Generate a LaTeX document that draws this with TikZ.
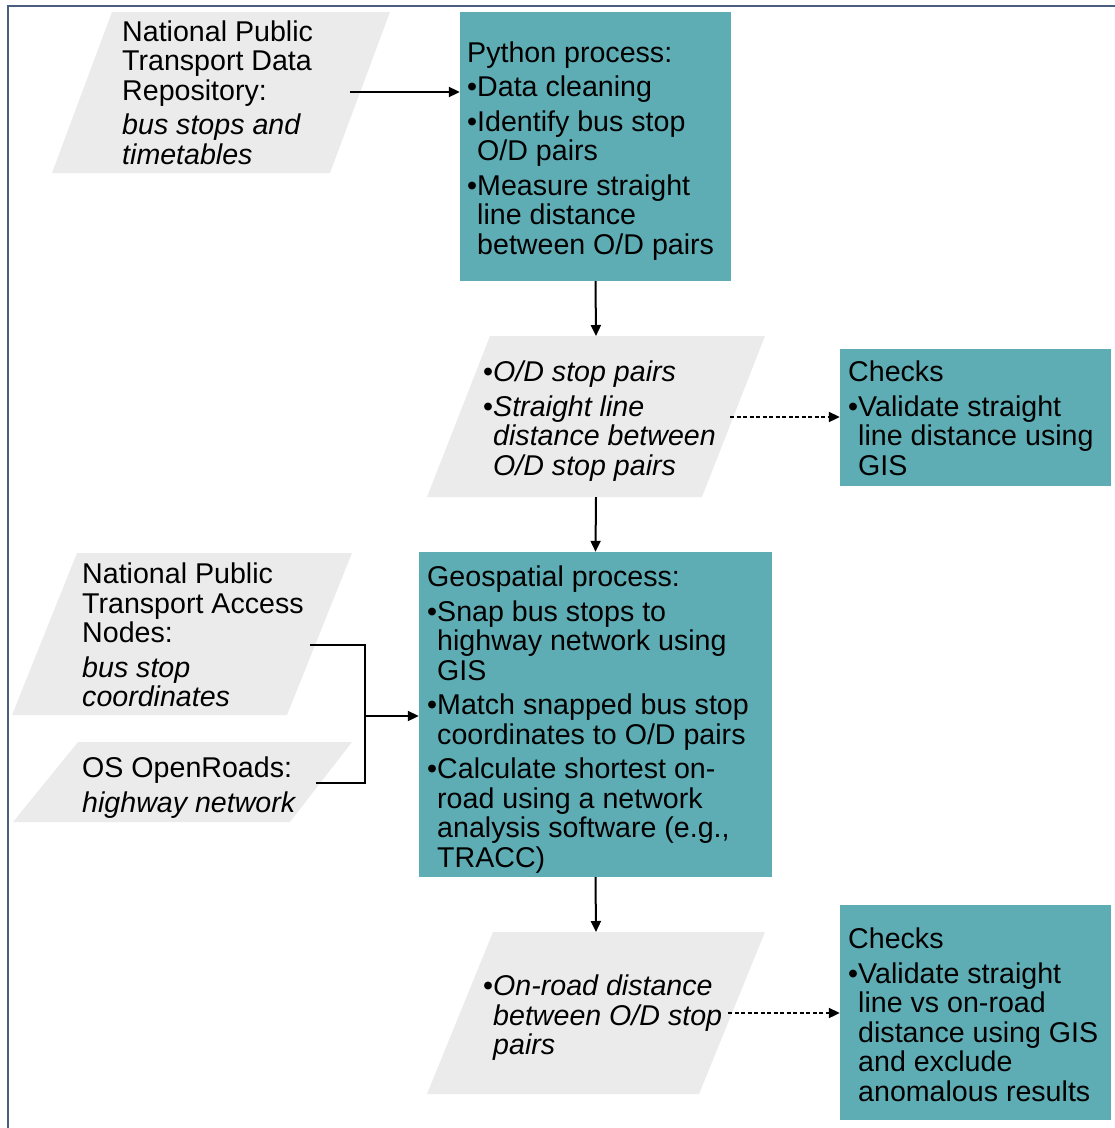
\documentclass[tikz,border=0pt]{standalone}
\usepackage{fontspec}
\setmainfont{Liberation Sans}
\usetikzlibrary{arrows.meta}
\definecolor{tealbox}{RGB}{94,173,181}
\definecolor{pgray}{RGB}{235,235,235}
\definecolor{framecol}{RGB}{74,94,128}
\newcommand\bl{\textbullet}
\newcommand\hg{\hphantom{\textbullet}}
\begin{document}
\begin{tikzpicture}[x=1pt,y=-1pt,
  txt/.style={anchor=north west, inner sep=0pt, align=left, font=\fontsize{28.6}{29.5}\selectfont},
  proc/.style={fill=tealbox, draw=none, inner sep=0pt},
  arr/.style={line width=2pt, -{Triangle[length=11pt,width=10pt]}},
  dotarr/.style={arr, dash pattern=on 4pt off 2.5pt},
  conn/.style={line width=2pt},
  datashape/.style={fill=pgray, draw=none}]
\useasboundingbox (0,0) rectangle (1115,1128);
% frame
\draw[framecol, line width=2.5pt] (8,1130) -- (8,6) -- (1117,6);

% data parallelograms
\fill[datashape] (112,12) -- (390,12) -- (330,173) -- (52,173) -- cycle;
\fill[datashape] (490,336) -- (765,336) -- (702,497) -- (427,497) -- cycle;
\fill[datashape] (77,553) -- (352,553) -- (287,715) -- (12,715) -- cycle;
\fill[datashape] (78,742) -- (352,742) -- (290,822) -- (13,822) -- cycle;
\fill[datashape] (493,932) -- (765,932) -- (699,1094) -- (427,1094) -- cycle;

% coordinates on data shapes
\coordinate (p1out) at (350,92);
\coordinate (p2top) at (596,336);
\coordinate (p2bot) at (596,497);
\coordinate (p2out) at (730,417);
\coordinate (p3out) at (310,645);
\coordinate (p4out) at (316,783);
\coordinate (junc) at (365,716);
\coordinate (p5top) at (596,932);
\coordinate (p5out) at (728,1013);

% process boxes
\node[proc, minimum width=271pt, minimum height=269pt] (python) at (595.5,146.5) {};
\node[proc, minimum width=271pt, minimum height=137pt] (checkA) at (975.5,417.5) {};
\node[proc, minimum width=353pt, minimum height=325pt] (geo) at (595.5,714.5) {};
\node[proc, minimum width=271pt, minimum height=215pt] (checkB) at (975.5,1012.5) {};

% texts
\node[txt] (t1) at (122,20.1) {National Public\\Transport Data\\Repository:\\[5pt]{\itshape bus stops and}\\{\itshape timetables}};
\node[txt] (t2) at (467,41.1) {Python process:\\[5pt]\bl Data cleaning\\[5pt]\bl Identify bus stop\\\hg O/D pairs\\[5pt]\bl Measure straight\\\hg line distance\\\hg between O/D pairs};
\node[txt] (t3) at (483,360.6) {\bl{\itshape O/D stop pairs}\\[5pt]\bl{\itshape Straight line}\\\hg{\itshape distance between}\\\hg{\itshape O/D stop pairs}};
\node[txt] (t4) at (848,360.6) {Checks\\[5pt]\bl Validate straight\\\hg line distance using\\\hg GIS};
\node[txt] (t5) at (427,565.6) {Geospatial process:\\[5pt]\bl Snap bus stops to\\\hg highway network using\\\hg GIS\\[5pt]\bl Match snapped bus stop\\\hg coordinates to O/D pairs\\[5pt]\bl Calculate shortest on-\\\hg road using a network\\\hg analysis software (e.g.,\\\hg TRACC)};
\node[txt] (t6) at (82,562.6) {National Public\\Transport Access\\Nodes:\\[5pt]{\itshape bus stop}\\{\itshape coordinates}};
\node[txt] (t7) at (82,756.6) {OS OpenRoads:\\[5pt]{\itshape highway network}};
\node[txt] (t8) at (483,974.6) {\bl{\itshape On-road distance}\\\hg{\itshape between O/D stop}\\\hg{\itshape pairs}};
\node[txt] (t9) at (848,927.6) {Checks\\[5pt]\bl Validate straight\\\hg line vs on-road\\\hg distance using GIS\\\hg and exclude\\\hg anomalous results};

% connectors
\draw[arr] (p1out) -- (python.west |- p1out);
\draw[arr] (python.south) -- (p2top);
\draw[dotarr] (p2out) -- (checkA.west |- p2out);
\draw[arr] (p2bot) -- (geo.north);
\draw[conn] (p3out) -- (p3out -| junc) -- (p4out -| junc) -- (p4out);
\draw[arr] (junc) -- (geo.west |- junc);
\draw[arr] (geo.south) -- (p5top);
\draw[dotarr] (p5out) -- (checkB.west |- p5out);
\end{tikzpicture}
\end{document}
